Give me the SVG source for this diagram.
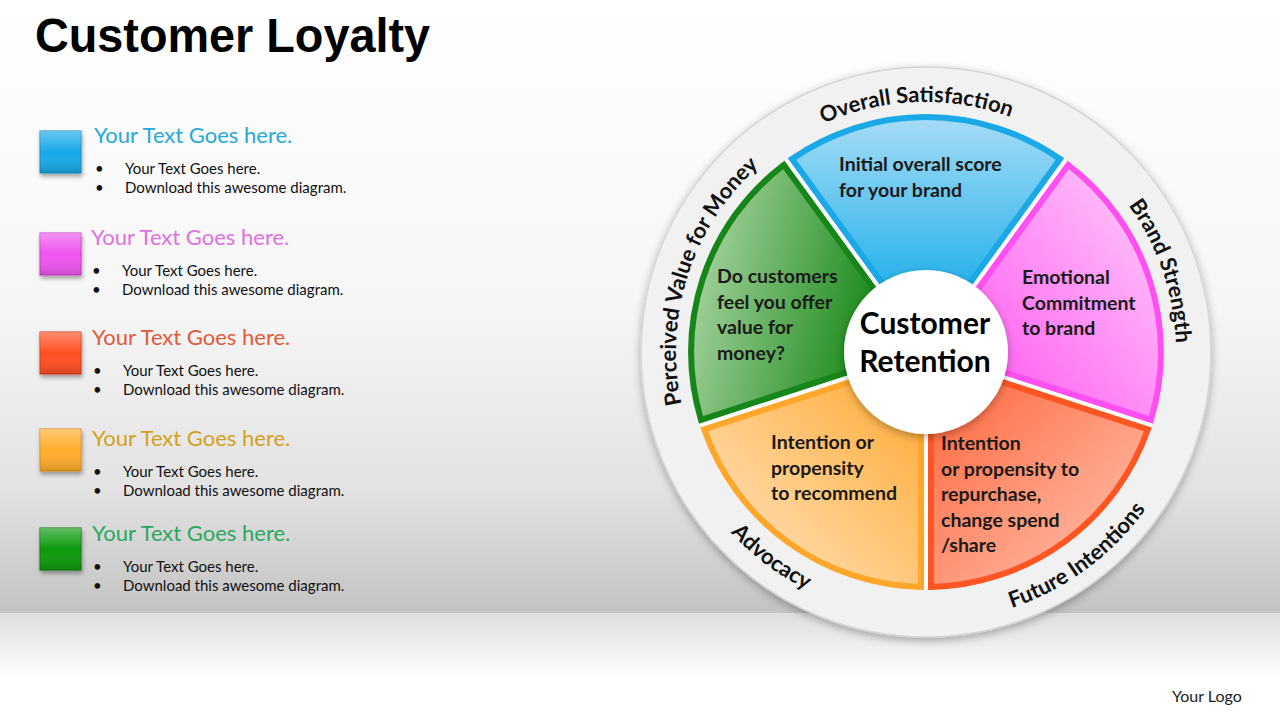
<svg xmlns="http://www.w3.org/2000/svg" width="1280" height="720" viewBox="0 0 1280 720">
<defs>
<linearGradient id="bgTop" x1="0" y1="0" x2="0" y2="1">
<stop offset="0" stop-color="#ffffff"/><stop offset="0.5" stop-color="#f6f6f6"/><stop offset="0.8" stop-color="#e2e2e2"/><stop offset="1" stop-color="#c3c3c3"/>
</linearGradient>
<linearGradient id="bgBot" x1="0" y1="0" x2="0" y2="1">
<stop offset="0" stop-color="#dedede"/><stop offset="0.6" stop-color="#ffffff"/><stop offset="1" stop-color="#ffffff"/>
</linearGradient>
<linearGradient id="gBlue" x1="0" y1="0" x2="0" y2="1"><stop offset="0" stop-color="#a6dcf6"/><stop offset="1" stop-color="#16ace8"/></linearGradient>
<linearGradient id="gPink" x1="1" y1="0" x2="0" y2="1"><stop offset="0" stop-color="#ffd0fb"/><stop offset="1" stop-color="#ff50f0"/></linearGradient>
<linearGradient id="gRed" x1="0" y1="0" x2="1" y2="1"><stop offset="0" stop-color="#ff6438"/><stop offset="1" stop-color="#ffc8b8"/></linearGradient>
<linearGradient id="gOrange" x1="1" y1="0" x2="0" y2="1"><stop offset="0" stop-color="#ffa830"/><stop offset="1" stop-color="#ffe8c8"/></linearGradient>
<linearGradient id="gGreen" x1="0" y1="0" x2="1" y2="0.3"><stop offset="0" stop-color="#b8dcb0"/><stop offset="1" stop-color="#1a8a1a"/></linearGradient>
<linearGradient id="sqShade" x1="0" y1="0" x2="0" y2="1"><stop offset="0" stop-color="#ffffff" stop-opacity="0.35"/><stop offset="0.5" stop-color="#ffffff" stop-opacity="0"/><stop offset="1" stop-color="#000000" stop-opacity="0.15"/></linearGradient>
<filter id="sh" x="-20%" y="-20%" width="140%" height="140%"><feDropShadow dx="0" dy="3" stdDeviation="4" flood-color="#000" flood-opacity="0.3"/></filter>
<filter id="shs" x="-30%" y="-30%" width="160%" height="160%"><feDropShadow dx="1" dy="3" stdDeviation="2" flood-color="#000" flood-opacity="0.35"/></filter>
<path id="pTop" d="M704.3,234.6 A250,250 0 0,1 1137.0,219.5"/>
<path id="pRight" d="M973.7,106.6 A250,250 0 0,1 1114.7,516.0"/>
<path id="pLeft" d="M740.2,519.3 A250,250 0 0,1 874.0,107.5"/>
<path id="pAdv" d="M662.0,319.6 A266,266 0 0,0 1029.9,596.9"/>
<path id="pFut" d="M818.3,599.6 A270,270 0 0,0 1194.3,321.4"/>
</defs>
<style>
.title{font-family:"Liberation Sans",Arial,sans-serif;font-weight:bold;font-size:48px;fill:#000}
.head{font-family:Lato,"Open Sans",sans-serif;font-size:22px}
.bul{font-family:Lato,"Open Sans",sans-serif;font-size:15px;fill:#111}
.ring{font-family:Lato,"Open Sans",sans-serif;font-weight:bold;font-size:22px;fill:#111}
.wt{font-family:Lato,"Open Sans",sans-serif;font-weight:bold;font-size:19.5px;fill:#1a1a1a}
.ct{font-family:Lato,"Open Sans",sans-serif;font-weight:bold;font-size:30px;fill:#000;text-anchor:middle}
.wedge{stroke-width:6;stroke-linejoin:miter}
</style>
<rect x="0" y="0" width="1280" height="613" fill="url(#bgTop)"/>
<rect x="0" y="613" width="1280" height="107" fill="url(#bgBot)"/>
<text class="title" x="35" y="52" textLength="395" lengthAdjust="spacingAndGlyphs">Customer Loyalty</text>
<g id="legend-blue">
<rect x="40" y="131" width="41" height="42" fill="#19a9e8" stroke="#0f8cc4" filter="url(#shs)"/>
<rect x="40" y="131" width="41" height="42" fill="url(#sqShade)"/>
<text class="head" x="94" y="143" fill="#27a8d8">Your Text Goes here.</text>
<text class="bul" x="95" y="174">•</text><text class="bul" x="125" y="174">Your Text Goes here.</text>
<text class="bul" x="95" y="193">•</text><text class="bul" x="125" y="193">Download this awesome diagram.</text>
</g>
<g id="legend-pink">
<rect x="40" y="233" width="41" height="42" fill="#ee55ee" stroke="#cc3acc" filter="url(#shs)"/>
<rect x="40" y="233" width="41" height="42" fill="url(#sqShade)"/>
<text class="head" x="91" y="245" fill="#e070e0">Your Text Goes here.</text>
<text class="bul" x="92" y="276">•</text><text class="bul" x="122" y="276">Your Text Goes here.</text>
<text class="bul" x="92" y="295">•</text><text class="bul" x="122" y="295">Download this awesome diagram.</text>
</g>
<g id="legend-red">
<rect x="40" y="332" width="41" height="42" fill="#ff5020" stroke="#d83a10" filter="url(#shs)"/>
<rect x="40" y="332" width="41" height="42" fill="url(#sqShade)"/>
<text class="head" x="92" y="345" fill="#e05a3a">Your Text Goes here.</text>
<text class="bul" x="93" y="376">•</text><text class="bul" x="123" y="376">Your Text Goes here.</text>
<text class="bul" x="93" y="395">•</text><text class="bul" x="123" y="395">Download this awesome diagram.</text>
</g>
<g id="legend-orange">
<rect x="40" y="429" width="41" height="42" fill="#ffac2a" stroke="#e0901a" filter="url(#shs)"/>
<rect x="40" y="429" width="41" height="42" fill="url(#sqShade)"/>
<text class="head" x="92" y="446" fill="#d4a020">Your Text Goes here.</text>
<text class="bul" x="93" y="477">•</text><text class="bul" x="123" y="477">Your Text Goes here.</text>
<text class="bul" x="93" y="496">•</text><text class="bul" x="123" y="496">Download this awesome diagram.</text>
</g>
<g id="legend-green">
<rect x="40" y="528" width="41" height="42" fill="#109a10" stroke="#0a7a0a" filter="url(#shs)"/>
<rect x="40" y="528" width="41" height="42" fill="url(#sqShade)"/>
<text class="head" x="92" y="541" fill="#2aa860">Your Text Goes here.</text>
<text class="bul" x="93" y="572">•</text><text class="bul" x="123" y="572">Your Text Goes here.</text>
<text class="bul" x="93" y="591">•</text><text class="bul" x="123" y="591">Download this awesome diagram.</text>
</g>
<g id="wheel">
<circle cx="926" cy="352" r="285" fill="#f1f1f1" stroke="#d4d4d4" stroke-width="1.5" filter="url(#sh)"/>
<circle cx="926" cy="352" r="237" fill="#ffffff"/>
</g>
<g id="seg-blue">
<path class="wedge" d="M900.66,308.61 L791.98,159.02 A235,235 0 0,1 1060.02,159.02 L951.34,308.61 Z" fill="url(#gBlue)" stroke="#1aa8e6"/>
<text class="wt" x="839" y="171">Initial overall score</text>
<text class="wt" x="839" y="197">for your brand</text>
</g>
<g id="seg-pink">
<path class="wedge" d="M959.44,314.49 L1068.12,164.90 A235,235 0 0,1 1150.95,419.83 L975.10,362.69 Z" fill="url(#gPink)" stroke="#ff4ff0"/>
<text class="wt" x="1022" y="284">Emotional</text>
<text class="wt" x="1022" y="310">Commitment</text>
<text class="wt" x="1022" y="335">to brand</text>
</g>
<g id="seg-red">
<path class="wedge" d="M972.00,372.21 L1147.85,429.35 A235,235 0 0,1 931,586.9 L931,402 Z" fill="url(#gRed)" stroke="#ff5522"/>
<text class="wt" x="941" y="450">Intention</text>
<text class="wt" x="941" y="476">or propensity to</text>
<text class="wt" x="941" y="501">repurchase,</text>
<text class="wt" x="941" y="527">change spend</text>
<text class="wt" x="941" y="552">/share</text>
</g>
<g id="seg-orange">
<path class="wedge" d="M921,402 L921,586.9 A235,235 0 0,1 704.15,429.35 L880.00,372.21 Z" fill="url(#gOrange)" stroke="#ffa62b"/>
<text class="wt" x="771" y="449">Intention or</text>
<text class="wt" x="771" y="475">propensity</text>
<text class="wt" x="771" y="500">to recommend</text>
</g>
<g id="seg-green">
<path class="wedge" d="M876.90,362.69 L701.05,419.83 A235,235 0 0,1 783.88,164.90 L892.56,314.49 Z" fill="url(#gGreen)" stroke="#17861a"/>
<text class="wt" x="717" y="283">Do customers</text>
<text class="wt" x="717" y="309">feel you offer</text>
<text class="wt" x="717" y="334">value for</text>
<text class="wt" x="717" y="360">money?</text>
</g>
<g id="center">
<circle cx="926" cy="352" r="82" fill="#ffffff" filter="url(#sh)"/>
<text class="ct" x="925" y="334">Customer</text>
<text class="ct" x="925" y="372">Retention</text>
</g>
<g id="ring-labels">
<text class="ring"><textPath href="#pTop" startOffset="50%" text-anchor="middle">Overall Satisfaction</textPath></text>
<text class="ring"><textPath href="#pRight" startOffset="50%" text-anchor="middle">Brand Strength</textPath></text>
<text class="ring"><textPath href="#pLeft" startOffset="50%" text-anchor="middle">Perceived Value for Money</textPath></text>
<text class="ring"><textPath href="#pAdv" startOffset="50%" text-anchor="middle">Advocacy</textPath></text>
<text class="ring"><textPath href="#pFut" startOffset="50%" text-anchor="middle">Future Intentions</textPath></text>
</g>
<g id="connectors"></g>
<text x="1172" y="702" font-family="Lato,'Open Sans',sans-serif" font-size="16" fill="#222">Your Logo</text>
</svg>
